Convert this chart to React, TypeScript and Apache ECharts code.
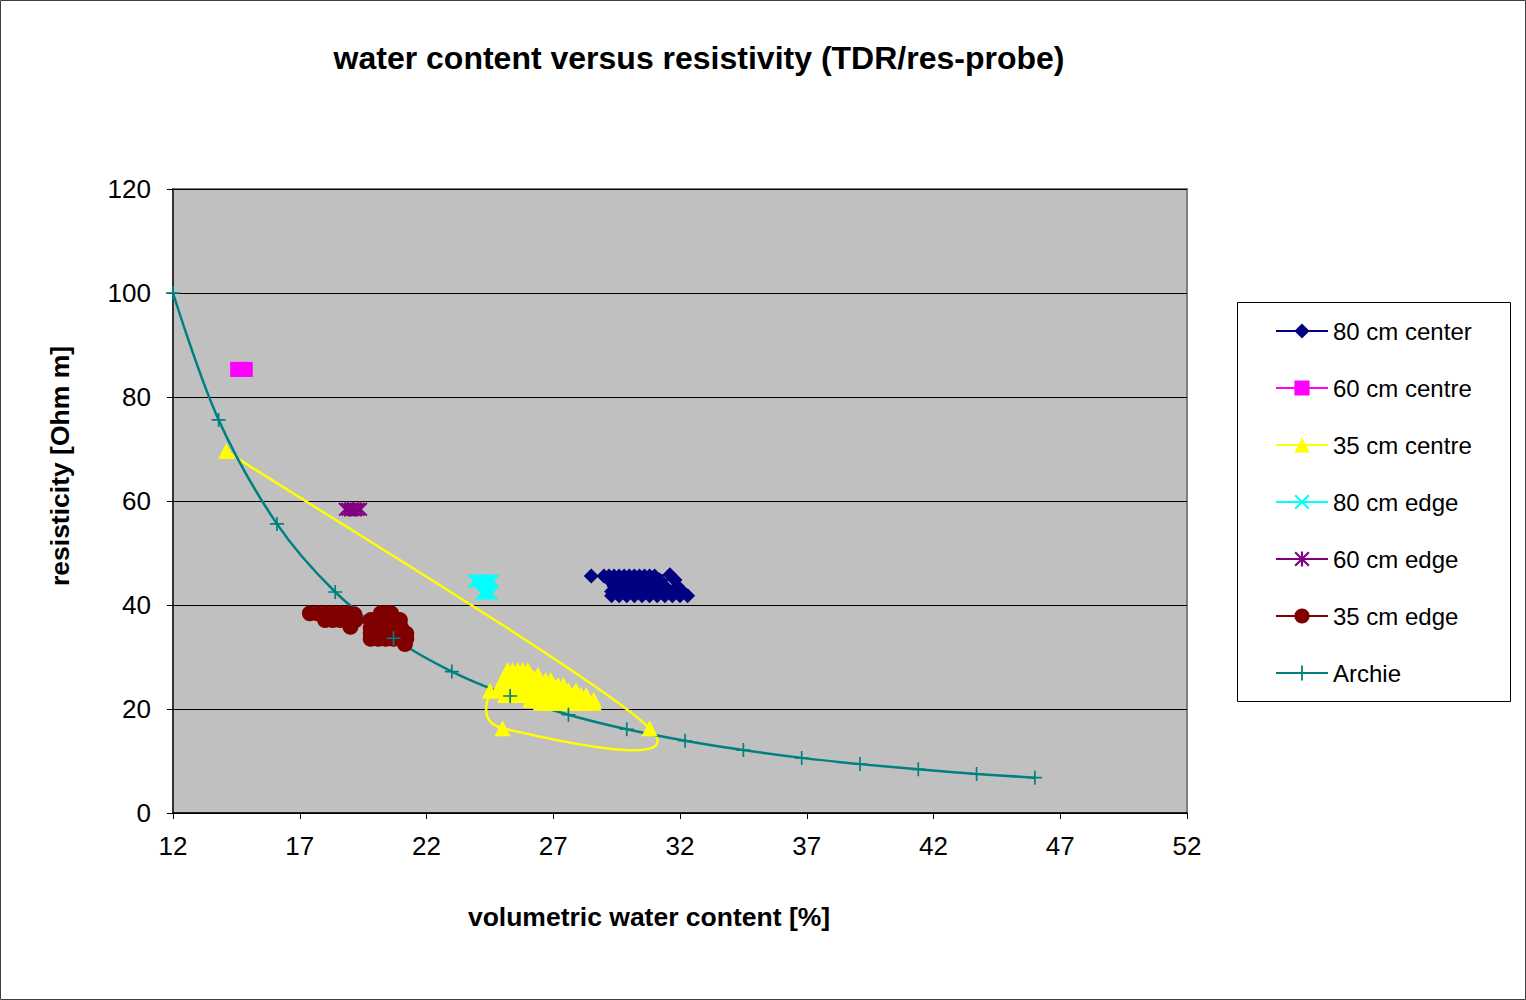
import React, { useEffect, useRef } from "react";
import * as echarts from "echarts";

const FONT = "'Liberation Sans', Arial, sans-serif";

const TITLE = "water content versus resistivity (TDR/res-probe)";
const X_NAME = "volumetric water content [%]";
const Y_NAME = "resisticity [Ohm m]";

const seriesNames = [
  "80 cm center",
  "60 cm centre",
  "35 cm centre",
  "80 cm edge",
  "60 cm edge",
  "35 cm edge",
  "Archie",
];

// 80 cm center
const c80X = [
  28.5, 29.0, 29.2, 29.4, 29.6, 29.8, 30.0, 30.2, 30.4, 30.6, 30.8, 31.0, 31.6,
  31.8, 31.2, 30.8, 30.4, 30.0, 29.6, 29.2,
  29.4, 29.8, 30.2, 30.6, 31.0, 31.4, 31.9,
  32.1, 31.7, 31.3, 30.9, 30.5, 30.1, 29.7, 29.3,
  29.3, 29.6, 29.9, 30.2, 30.5, 30.8, 31.1, 31.4, 31.7, 32.0, 32.3,
];
const c80Y = [
  45.6, 45.6, 45.6, 45.6, 45.6, 45.6, 45.6, 45.6, 45.6, 45.6, 45.6, 45.6, 45.8,
  44.8, 44.8, 44.8, 44.8, 44.8, 44.8, 44.8,
  43.6, 43.6, 43.6, 43.6, 43.6, 43.6, 43.6,
  42.6, 42.6, 42.6, 42.6, 42.6, 42.6, 42.6, 42.6,
  41.8, 41.8, 41.8, 41.8, 41.8, 41.8, 41.8, 41.8, 41.8, 41.8, 41.8,
];

// 60 cm centre
const c60X = [14.55, 14.7, 14.85];
const c60Y = [85.3, 85.3, 85.3];

// 35 cm centre
const c35X = [
  14.1, 30.8, 25.0, 24.5,
  25.1, 25.4, 25.7, 26.0, 26.3, 26.6, 26.9, 27.2, 27.5, 27.8, 28.1, 28.3,
  28.6, 28.4, 28.1, 27.8, 27.5, 27.2, 26.9, 26.6, 26.3, 26.1,
  26.5, 26.8, 27.1, 27.4, 27.7, 28.0, 28.3, 28.6,
  27.9, 27.6, 27.3, 27.0, 26.7, 26.4, 26.1, 25.8, 25.5, 25.2, 24.8,
  25.0, 25.2, 25.4, 25.6, 25.8, 26.0, 26.2, 26.4, 26.6, 26.8, 27.0, 27.2, 27.4,
  26.9, 26.7, 26.4, 26.2, 26.0, 25.8, 25.6, 25.4, 25.2, 25.0,
  25.1, 25.3, 25.5, 25.7, 25.9, 26.1, 26.4,
  26.0, 25.8, 25.6, 25.4, 25.2,
];
const c35Y = [
  69.6, 16.3, 16.3, 23.5,
  22.7, 22.7, 22.7, 22.7, 22.7, 22.7, 22.7, 22.7, 22.7, 22.7, 22.7, 22.7,
  21.8, 21.8, 21.8, 21.8, 21.8, 21.8, 21.8, 21.8, 21.8, 21.8,
  21.2, 21.2, 21.2, 21.2, 21.2, 21.2, 21.2, 21.2,
  23.6, 23.6, 23.6, 23.6, 23.6, 23.6, 23.6, 23.6, 23.6, 23.6, 23.6,
  24.6, 24.6, 24.6, 24.6, 24.6, 24.6, 24.6, 24.6, 24.6, 24.6, 24.6, 24.6, 24.6,
  25.6, 25.6, 25.6, 25.6, 25.6, 25.6, 25.6, 25.6, 25.6, 25.6,
  26.6, 26.6, 26.6, 26.6, 26.6, 26.6, 26.6,
  27.5, 27.5, 27.5, 27.5, 27.5,
];

// 80 cm edge
const e80X = [23.9, 24.0, 24.1, 24.2, 24.3, 24.4, 24.5, 24.6, 24.55, 24.45, 24.35, 24.25, 24.2];
const e80Y = [44.6, 44.6, 44.6, 44.6, 44.6, 44.6, 44.6, 44.6, 42.3, 42.3, 42.3, 42.3, 42.3];

// 60 cm edge
const e60X = [18.8, 18.9, 19.0, 19.1, 19.2, 19.3, 19.4];
const e60Y = [58.4, 58.4, 58.3, 58.4, 58.3, 58.4, 58.4];

// 35 cm edge
const e35X = [
  17.4, 17.7, 18.0, 18.3, 18.6, 18.9, 19.15,
  19.2, 18.9, 18.6, 18.3, 18.0,
  19.0, 19.8, 20.1, 20.4, 20.7, 20.95,
  20.6, 20.4, 20.2,
  19.8, 20.1, 20.4, 20.7, 21.0,
  21.2, 20.9, 20.6, 20.3, 20.0, 19.8,
  19.8, 20.1, 20.4, 20.7, 21.0, 21.2, 21.15,
];
const e35Y = [
  38.4, 38.4, 38.4, 38.4, 38.4, 38.4, 38.2,
  37.1, 37.1, 37.1, 37.1, 37.1,
  35.8, 37.1, 37.1, 37.1, 37.1, 37.1,
  38.4, 38.4, 38.4,
  35.6, 35.6, 35.6, 35.6, 35.6,
  34.5, 34.5, 34.5, 34.5, 34.5, 34.5,
  33.5, 33.5, 33.5, 33.5, 33.5, 33.5, 32.5,
];

// Archie
const archieX = [12, 13.8, 16.1, 18.4, 20.7, 23.0, 25.3, 27.6, 29.9, 32.2, 34.5, 36.8, 39.1, 41.4, 43.7, 46.0];
const archieY = [100, 75.6, 55.6, 42.5, 33.6, 27.2, 22.5, 18.9, 16.1, 13.9, 12.1, 10.6, 9.4, 8.4, 7.5, 6.8];

const xTicks = [12, 17, 22, 27, 32, 37, 42, 47, 52];
const yTicks = [0, 20, 40, 60, 80, 100, 120];

const colors = ["#000080", "#FF00FF", "#FFFF00", "#00FFFF", "#800080", "#800000", "#008080"];

const SYM_X = "path://M0,1 L1,0 L10,9 L9,10 Z M9,0 L10,1 L1,10 L0,9 Z";
const SYM_STAR = "path://M0,1 L1,0 L10,9 L9,10 Z M9,0 L10,1 L1,10 L0,9 Z M4.3,0 L5.7,0 L5.7,10 L4.3,10 Z";
const SYM_PLUS = "path://M4.4,0 L5.6,0 L5.6,10 L4.4,10 Z M0,4.4 L10,4.4 L10,5.6 L0,5.6 Z";

const zip = (xs: number[], ys: number[]) => xs.map((x, i) => [x, ys[i]]);

// Excel-like smoothed line (Catmull-Rom, tension 1/6) through screen points
function smoothPath(p: number[][]): string {
  const n = p.length;
  if (n === 0) return "";
  let d = `M${p[0][0]},${p[0][1]}`;
  for (let i = 0; i < n - 1; i++) {
    const a = p[Math.max(i - 1, 0)];
    const b = p[i];
    const c = p[i + 1];
    const e = p[Math.min(i + 2, n - 1)];
    const c1x = b[0] + (c[0] - a[0]) / 6;
    const c1y = b[1] + (c[1] - a[1]) / 6;
    const c2x = c[0] - (e[0] - b[0]) / 6;
    const c2y = c[1] - (e[1] - b[1]) / 6;
    d += ` C${c1x},${c1y} ${c2x},${c2y} ${c[0]},${c[1]}`;
  }
  return d;
}

export default function App() {
  const ref = useRef<HTMLDivElement>(null);
  useEffect(() => {
    if (!ref.current) return;
    const chart = echarts.init(ref.current, null, { renderer: "svg" });
    const mk = (
      i: number,
      xs: number[],
      ys: number[],
      symbol: string,
      size: number,
      smooth: number | boolean,
      lw: number,
      lineOpacity = 1
    ) => ({
      name: seriesNames[i],
      type: "line",
      data: zip(xs, ys),
      symbol,
      symbolSize: size,
      smooth,
      showAllSymbol: true,
      clip: false,
      z: 3,
      lineStyle: { color: colors[i], width: lw, opacity: lineOpacity },
      itemStyle: { color: colors[i], borderWidth: 0 },
      emphasis: { disabled: true },
    });
    const c35Pts = zip(c35X, c35Y);
    chart.setOption({
      animation: false,
      backgroundColor: "#FFFFFF",
      textStyle: { fontFamily: FONT },
      grid: {
        left: 173,
        top: 189,
        right: 339,
        bottom: 187,
        show: true,
        backgroundColor: "#C0C0C0",
        borderColor: "#808080",
        borderWidth: 2,
      },
      xAxis: {
        type: "value",
        min: xTicks[0],
        max: xTicks[xTicks.length - 1],
        interval: 5,
        axisLine: { show: true, onZero: false, lineStyle: { color: "#000", width: 1.5 } },
        axisTick: { show: true, inside: false, length: 6, lineStyle: { color: "#000" } },
        axisLabel: { color: "#000", fontSize: 26, fontFamily: FONT, margin: 20 },
        splitLine: { show: false },
      },
      yAxis: {
        type: "value",
        min: yTicks[0],
        max: yTicks[yTicks.length - 1],
        interval: 20,
        axisLine: { show: true, onZero: false, lineStyle: { color: "#333", width: 2 } },
        axisTick: { show: true, inside: false, length: 6, lineStyle: { color: "#000" } },
        axisLabel: { color: "#000", fontSize: 26, fontFamily: FONT, margin: 22 },
        splitLine: { show: true, lineStyle: { color: "#000", width: 1 } },
      },
      legend: {
        show: true,
        orient: "vertical",
        left: 1275,
        top: 319,
        itemWidth: 52,
        itemHeight: 19,
        itemGap: 33,
        padding: 0,
        data: seriesNames.map((n) => ({ name: n, lineStyle: { opacity: 1 } })),
        textStyle: { color: "#000", fontSize: 24, fontFamily: FONT },
      },
      graphic: [
        {
          type: "rect",
          shape: { x: 0.5, y: 0.5, width: 1525, height: 999 },
          style: { fill: "none", stroke: "#404040", lineWidth: 1 },
          silent: true,
          z: -10,
        },
        {
          type: "rect",
          shape: { x: 1237.5, y: 302.5, width: 273, height: 399 },
          style: { fill: "#FFFFFF", stroke: "#000", lineWidth: 1 },
          silent: true,
          z: -5,
        },
        {
          type: "text",
          x: 699,
          y: 58,
          style: {
            text: TITLE,
            fontSize: 32,
            fontWeight: "bold",
            fontFamily: FONT,
            fill: "#000",
            align: "center",
            verticalAlign: "middle",
          },
        },
        {
          type: "text",
          x: 649,
          y: 917,
          style: {
            text: X_NAME,
            fontSize: 26.5,
            fontWeight: "bold",
            fontFamily: FONT,
            fill: "#000",
            align: "center",
            verticalAlign: "middle",
          },
        },
        {
          type: "text",
          x: 60,
          y: 466,
          rotation: Math.PI / 2,
          style: {
            text: Y_NAME,
            fontSize: 26.5,
            fontWeight: "bold",
            fontFamily: FONT,
            fill: "#000",
            align: "center",
            verticalAlign: "middle",
          },
        },
      ],
      series: [
        {
          name: "35 cm centre (line)",
          type: "custom",
          coordinateSystem: "cartesian2d",
          data: c35Pts,
          encode: { x: 0, y: 1 },
          z: 2,
          silent: true,
          renderItem: (params: any, api: any) => {
            if (params.dataIndex !== 0) return null;
            const pts = c35Pts.map((p) => api.coord(p));
            return {
              type: "path",
              shape: { pathData: smoothPath(pts) },
              style: { fill: "none", stroke: colors[2], lineWidth: 2.5 },
            };
          },
        },
        mk(0, c80X, c80Y, "diamond", 15, false, 2),
        mk(1, c60X, c60Y, "rect", 15, false, 2),
        mk(2, c35X, c35Y, "triangle", 16, false, 2.5, 0),
        mk(3, e80X, e80Y, SYM_X, 14, false, 2),
        mk(4, e60X, e60Y, SYM_STAR, 14, false, 2),
        mk(5, e35X, e35Y, "circle", 16, false, 2),
        mk(6, archieX, archieY, SYM_PLUS, 14, 0.35, 2.5),
      ],
    });
    return () => chart.dispose();
  }, []);
  return (
    <div
      ref={ref}
      style={{ position: "absolute", left: 0, top: 0, width: 1526, height: 1000 }}
    />
  );
}
